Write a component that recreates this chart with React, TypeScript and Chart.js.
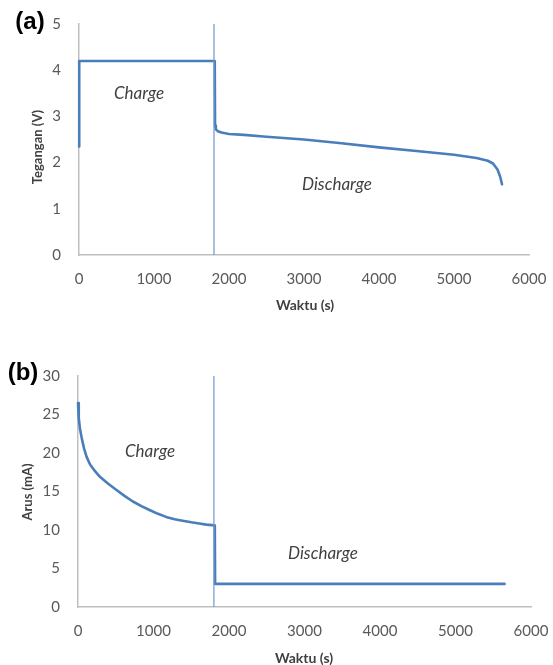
import React, { useEffect, useRef } from "react";
import { Chart, registerables } from "chart.js";
Chart.register(...registerables);

// (a) Tegangan (V) vs Waktu (s)
const voltTime = [0, 3, 1000, 1810, 1814, 1825, 1850, 1900, 2000, 2200, 2500, 3000, 3500, 4000, 4500, 5000, 5300, 5450, 5520, 5580, 5615, 5640];
const voltValues = [2.35, 4.2, 4.2, 4.2, 2.8, 2.72, 2.68, 2.65, 2.62, 2.6, 2.56, 2.5, 2.42, 2.33, 2.25, 2.17, 2.1, 2.04, 1.98, 1.85, 1.7, 1.53];

// (b) Arus (mA) vs Waktu (s)
const currTime = [0, 10, 25, 50, 80, 114, 160, 220, 290, 400, 510, 620, 727, 840, 947, 1060, 1166, 1280, 1386, 1500, 1605, 1700, 1812, 1816, 3000, 4000, 5000, 5650];
const currValues = [26.5, 24.6, 23.2, 21.9, 20.6, 19.5, 18.5, 17.7, 16.9, 16.0, 15.2, 14.4, 13.7, 13.1, 12.6, 12.1, 11.7, 11.4, 11.2, 11.0, 10.85, 10.7, 10.6, 3.0, 3.0, 3.0, 3.0, 3.0];

// switch from charge to discharge
const switchTime = [1800, 1800];
const voltSwitchRange = [0, 5];
const currSwitchRange = [0, 30];

const LINE = "#4a7ebb";
const AXIS = "#bfbfbf";
const TICK = "#595959";

type TextItem = { text: string; x: number; y: number; font: string; color: string; rotate?: boolean };

function textPlugin(items: TextItem[]) {
  return {
    id: "texts",
    afterDraw(chart: any) {
      const ctx = chart.ctx;
      items.forEach((t) => {
        ctx.save();
        ctx.font = t.font;
        ctx.fillStyle = t.color;
        ctx.textAlign = "center";
        ctx.textBaseline = "middle";
        ctx.translate(t.x, t.y);
        if (t.rotate) ctx.rotate(-Math.PI / 2);
        ctx.fillText(t.text, 0, 0);
        ctx.restore();
      });
    },
  };
}

function makeConfig(
  xs: number[],
  ys: number[],
  yRange: number[],
  yMax: number,
  yStep: number,
  yAxisWidth: number,
  xAxisHeight: number,
  padTop: number,
  padRight: number,
  texts: TextItem[]
): any {
  return {
    type: "scatter",
    data: {
      datasets: [
        {
          data: switchTime.map((t, i) => ({ x: t, y: yRange[i] })),
          showLine: true,
          borderColor: "#6f97cc",
          borderWidth: 1.2,
          pointRadius: 0,
          clip: false,
        },
        {
          data: xs.map((t, i) => ({ x: t, y: ys[i] })),
          showLine: true,
          borderColor: LINE,
          borderWidth: 2.6,
          borderJoinStyle: "round",
          borderCapStyle: "round",
          pointRadius: 0,
          tension: 0,
          clip: false,
        },
      ],
    },
    options: {
      responsive: false,
      animation: false,
      layout: { padding: { top: padTop, right: padRight, left: 0, bottom: 0 } },
      plugins: { legend: { display: false }, tooltip: { enabled: false } },
      scales: {
        x: {
          type: "linear",
          min: 0,
          max: 6000,
          grid: { display: false, drawTicks: false },
          border: { display: true, color: AXIS, width: 1.5 },
          ticks: {
            stepSize: 1000,
            color: TICK,
            font: { family: "Lato", size: 15 },
            padding: 15,
            maxRotation: 0,
            callback: (v: any) => String(v),
          },
          afterFit: (s: any) => {
            s.height = xAxisHeight;
            s.paddingLeft = 0;
            s.paddingRight = 0;
          },
        },
        y: {
          min: 0,
          max: yMax,
          grid: { display: false, drawTicks: false },
          border: { display: true, color: AXIS, width: 1.5 },
          ticks: {
            stepSize: yStep,
            color: TICK,
            font: { family: "Lato", size: 15 },
            padding: 18,
            callback: (v: any) => String(v),
          },
          afterFit: (s: any) => {
            s.width = yAxisWidth;
            s.paddingTop = 0;
            s.paddingBottom = 0;
          },
        },
      },
    },
    plugins: [textPlugin(texts)],
  };
}

function ChartBox({ config, top, height }: { config: any; top: number; height: number }) {
  const ref = useRef<HTMLCanvasElement>(null);
  useEffect(() => {
    const chart = new Chart(ref.current as HTMLCanvasElement, config);
    return () => chart.destroy();
  }, []);
  return (
    <div style={{ position: "absolute", left: 0, top, width: 553, height }}>
      <canvas ref={ref} width={553} height={height} style={{ display: "block" }} />
    </div>
  );
}

export default function App() {
  const configA = makeConfig(voltTime, voltValues, voltSwitchRange, 5, 1, 79, 75, 24, 24, [
    { text: "(a)", x: 30, y: 22, font: "bold 24px 'Liberation Sans'", color: "#000" },
    { text: "Tegangan (V)", x: 38, y: 147, font: "bold 13px Lato", color: "#404040", rotate: true },
    { text: "Waktu (s)", x: 305, y: 305, font: "bold 14px Lato", color: "#404040" },
    { text: "Charge", x: 139, y: 94, font: "italic 17px Lato", color: "#404040" },
    { text: "Discharge", x: 337, y: 185, font: "italic 17px Lato", color: "#404040" },
  ]);
  const configB = makeConfig(currTime, currValues, currSwitchRange, 30, 5, 78, 58, 46, 22, [
    { text: "(b)", x: 23, y: 43, font: "bold 24px 'Liberation Sans'", color: "#000" },
    { text: "Arus (mA)", x: 28, y: 162, font: "bold 13px Lato", color: "#404040", rotate: true },
    { text: "Waktu (s)", x: 304, y: 328, font: "bold 14px Lato", color: "#404040" },
    { text: "Charge", x: 150, y: 122, font: "italic 17px Lato", color: "#404040" },
    { text: "Discharge", x: 323, y: 224, font: "italic 17px Lato", color: "#404040" },
  ]);
  return (
    <div style={{ position: "absolute", left: 0, top: 0, width: 553, height: 665, background: "#fff" }}>
      <ChartBox config={configA} top={0} height={330} />
      <ChartBox config={configB} top={330} height={335} />
    </div>
  );
}
